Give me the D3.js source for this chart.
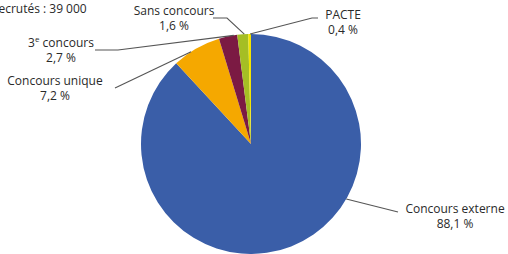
<!DOCTYPE html>
<html>
<head>
<meta charset="utf-8">
<script src="https://cdn.jsdelivr.net/npm/d3@7"></script>
<style>
  html, body { margin: 0; padding: 0; background: #fff; }
  svg { display: block; }
  text { font-family: "Open Sans", sans-serif; font-size: 12px; fill: #2a2a2a; }
</style>
</head>
<body>
<svg id="chart" width="508" height="254"></svg>
<script>
const categories = ['Concours externe', 'Concours unique', '3e concours', 'Sans concours', 'PACTE'];
const shares = [88.1, 7.2, 2.7, 1.6, 0.4];
const valueLabels = ['88,1 %', '7,2 %', '2,7 %', '1,6 %', '0,4 %'];
const colors = ['#3a5ea8', '#f5a800', '#7b1a43', '#a5be24', '#f3e400'];
const totalLabel = 'Recrutés : 39 000';

// label placement (layout only): anchor angle on the rim, elbow, text position
const labelLayout = {
  'Concours externe': { angle: 120, elbow: [398, 212], end: [398, 212], text: [455, 213] },
  'Concours unique': { angle: 327, elbow: [115, 88], end: [115, 88], text: [55, 85] },
  '3e concours': { angle: 351, elbow: [118, 50], end: [95, 50], text: [61, 47] },
  'Sans concours': { angle: 356.5, elbow: [227, 18], end: [213, 18], text: [174, 15] },
  'PACTE': { angle: 359.5, elbow: [312, 18], end: [318, 18], text: [343, 19] }
};

const svg = d3.select('#chart');
const cx = 251;
const cy = 144;
const radius = 110;

const pie = d3.pie().sort(null).value(d => d.value);
const arc = d3.arc().innerRadius(0).outerRadius(radius);
const data = categories.map((name, i) => ({ name, value: shares[i], label: valueLabels[i], color: colors[i] }));
const arcs = pie(data);

const g = svg.append('g').attr('transform', `translate(${cx},${cy})`);
g.selectAll('path.slice')
  .data(arcs)
  .join('path')
  .attr('class', 'slice')
  .attr('d', arc)
  .attr('fill', d => d.data.color);

const rimPoint = deg => {
  const a = deg * Math.PI / 180;
  return [cx + radius * Math.sin(a), cy - radius * Math.cos(a)];
};

const line = d3.line();
data.forEach(d => {
  const lay = labelLayout[d.name];
  const pts = [rimPoint(lay.angle), lay.elbow, lay.end];
  svg.append('path')
    .attr('d', line(pts))
    .attr('fill', 'none')
    .attr('stroke', '#555')
    .attr('stroke-width', 1.1);

  const t = svg.append('text')
    .attr('text-anchor', 'middle')
    .attr('x', lay.text[0])
    .attr('y', lay.text[1]);
  if (d.name === '3e concours') {
    t.append('tspan').text('3');
    t.append('tspan').attr('font-size', '8px').attr('dy', -5).text('e');
    t.append('tspan').attr('dy', 5).text(' concours');
  } else {
    t.text(d.name);
  }
  svg.append('text')
    .attr('text-anchor', 'middle')
    .attr('x', lay.text[0])
    .attr('y', lay.text[1] + 15)
    .text(d.label);
});

svg.append('text')
  .attr('x', -9)
  .attr('y', 13)
  .text(totalLabel);
</script>
</body>
</html>
